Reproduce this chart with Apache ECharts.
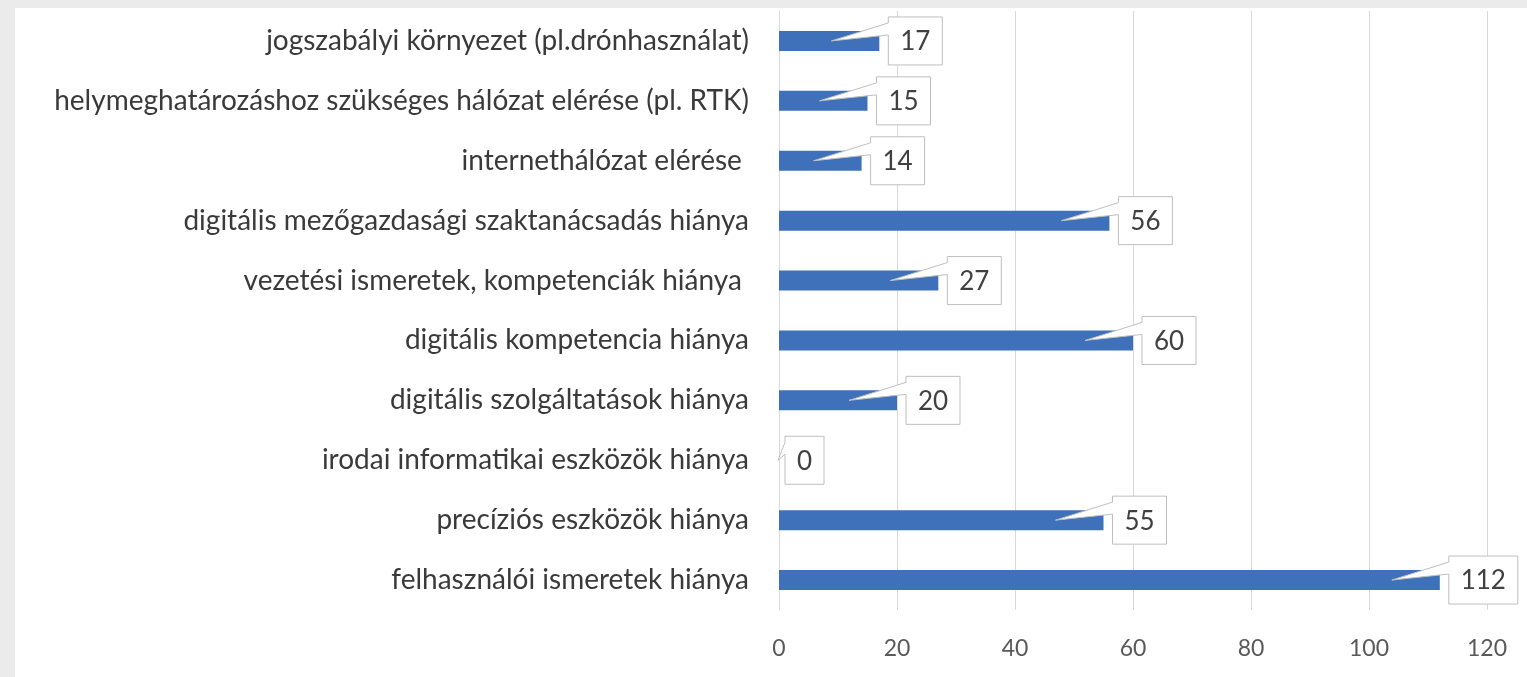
<!DOCTYPE html>
<html>
<head>
<meta charset="utf-8">
<script src="https://cdn.jsdelivr.net/npm/echarts@6/dist/echarts.min.js"></script>
<style>
html,body{margin:0;padding:0;background:#ebebeb;}
#chart{width:1527px;height:677px;}
</style>
</head>
<body>
<div id="chart"></div>
<script>
const categories = [
  "jogszabályi környezet (pl.drónhasználat)",
  "helymeghatározáshoz szükséges hálózat elérése (pl. RTK)",
  "internethálózat elérése ",
  "digitális mezőgazdasági szaktanácsadás hiánya",
  "vezetési ismeretek, kompetenciák hiánya ",
  "digitális kompetencia hiánya",
  "digitális szolgáltatások hiánya",
  "irodai informatikai eszközök hiánya",
  "precíziós eszközök hiánya",
  "felhasználói ismeretek hiánya"
];
const values = [17, 15, 14, 56, 27, 60, 20, 0, 55, 112];
const axisTicks = [0, 20, 40, 60, 80, 100, 120];

const FONT = 'Lato, "Open Sans", sans-serif';
const calloutData = values.map((v, i) => [v, i]);

const chart = echarts.init(document.getElementById('chart'));
chart.setOption({
  backgroundColor: '#ebebeb',
  animation: false,
  graphic: [{
    type: 'rect', z: -10, silent: true,
    shape: {x: 15, y: 8, width: 1512, height: 669},
    style: {fill: '#ffffff'}
  }],
  grid: {left: 779, right: 40, top: 11, bottom: 67},
  xAxis: {
    type: 'value', min: axisTicks[0], max: axisTicks[axisTicks.length - 1], interval: 20,
    axisLine: {show: false}, axisTick: {show: false},
    splitLine: {show: true, lineStyle: {color: '#d9d9d9', width: 1}},
    axisLabel: {color: '#595959', fontSize: 23, fontFamily: FONT, margin: 27}
  },
  yAxis: {
    type: 'category', data: categories, inverse: true,
    axisLine: {show: true, lineStyle: {color: '#d9d9d9'}}, axisTick: {show: false},
    axisLabel: {color: '#3a3a3a', fontSize: 28, fontFamily: FONT, margin: 30}
  },
  series: [{
    type: 'bar', data: values, barWidth: 20,
    itemStyle: {color: '#3F70BA'},
    z: 2
  }, {
    type: 'custom', data: calloutData, z: 5,
    encode: {x: 0, y: 1},
    renderItem: function (params, api) {
      const v = api.value(0);
      const idx = api.value(1);
      const end = api.coord([v, idx]);
      const start = api.coord([0, idx]);
      const label = String(v);
      const w = 24 + 15 * label.length;
      const h = 48;
      const bx = end[0] + (v === 0 ? 6 : 9);
      const top = end[1] - h / 2;
      const bot = top + h;
      const tx = Math.max(start[0] - 1, end[0] - 48);
      const ty = end[1];
      return {
        type: 'group',
        children: [{
          type: 'polygon',
          shape: {points: [
            [bx, top], [bx + w, top], [bx + w, bot], [bx, bot],
            [bx, top + 18], [tx, ty], [bx, top + 6]
          ]},
          style: {fill: '#ffffff', stroke: '#bfbfbf', lineWidth: 1}
        }, {
          type: 'text',
          style: {
            text: label, x: bx + w / 2, y: top + h / 2 + 1,
            align: 'center', verticalAlign: 'middle',
            fill: '#404040', fontSize: 26, fontFamily: FONT
          }
        }]
      };
    }
  }]
});
</script>
</body>
</html>
